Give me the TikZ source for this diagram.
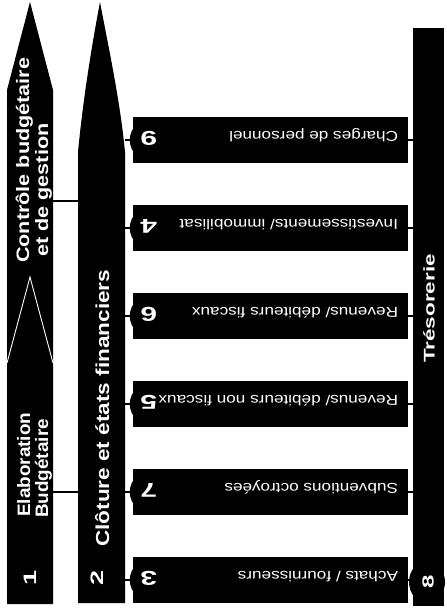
\documentclass[tikz,border=0pt]{standalone}
\usepackage{fontspec}
\setmainfont{Liberation Sans}
\newfontfamily\colfont{Liberation Sans}[FakeStretch=1.2]
\newfontfamily\elfont{Liberation Sans}[FakeStretch=1.05]
\newfontfamily\trfont{Liberation Sans}[FakeStretch=1.45]
\newfontfamily\boxfont{Liberation Sans}[FakeStretch=1.2]
\newfontfamily\numfont{Liberation Sans}[FakeStretch=1.5]
\begin{document}
\begin{tikzpicture}[x=1pt,y=-1pt,
  body/.style={inner sep=0pt, minimum width=#1, anchor=north west},
  box/.style={fill=black, inner sep=0pt, minimum width=275pt, minimum height=46pt},
  conn/.style={line width=2pt, black},
  coltext/.style={white, inner sep=0pt, rotate=90, anchor=base west, font=\colfont\bfseries\fontsize{18}{18}\selectfont},
  eltext/.style={white, inner sep=0pt, rotate=90, anchor=base west, font=\elfont\bfseries\fontsize{18}{18}\selectfont},
  colnum/.style={white, inner sep=0pt, rotate=90, font=\numfont\bfseries\fontsize{18}{18}\selectfont},
  boxnum/.style={white, inner sep=0pt, rotate=180, font=\numfont\bfseries\fontsize{20}{20}\selectfont},
  boxtext/.style={white, inner sep=0pt, rotate=180, anchor=base west, font=\boxfont\fontsize{14.3}{14.3}\selectfont}
]
\useasboundingbox (0,0) rectangle (447,616);
\fill[white] (0,0) rectangle (447,616);

% column 1 : Controle budgetaire / Elaboration budgetaire
\node[body=46pt, minimum height=514pt] (c1) at (7,90) {};
\fill (7,90) -- (30,2) -- (53,90) -- (53,604) -- (7,604) -- cycle;
\draw[white, line width=0.9pt] (7,363) -- (30,277) -- (53,363);

% column 2 : Cloture
\node[body=47pt, minimum height=451pt] (c2) at (78,152) {};
\fill (78,152) .. controls (83,100) and (91,50) .. (100,2)
      .. controls (109,50) and (120,100) .. (125,152) -- (125,603) -- (78,603) -- cycle;

% column 8 : Tresorerie
\node[body=31pt, minimum height=578pt] (tr) at (413,28) {};
\fill (413,28) rectangle (444,606);
\fill (427,582) ellipse (18pt and 21pt);

% texts of the columns
\node[coltext] (t1a) at (29,263) {Contrôle budgétaire};
\node[coltext] (t1b) at (48,257) {et de gestion};
\node[eltext] (t1c) at (30,517) {Elaboration};
\node[eltext] (t1d) at (48,518) {Budgétaire};
\node[colnum] (n1) at (30,578) {1};
\node[coltext, font=\colfont\bfseries\fontsize{18.8}{18.8}\selectfont] (t2) at (109,547) {Clôture et états financiers};
\node[colnum] (n2) at (97,578) {2};
\node[coltext, font=\trfont\bfseries\fontsize{15.5}{15.5}\selectfont] (t8) at (434.5,363) {Trésorerie};
\node[colnum, font=\numfont\bfseries\fontsize{16}{16}\selectfont] (n8) at (428,582) {8};

% boxes
\foreach \n/\y/\t in {9/140/{Charges de personnel},
                      4/228/{Investissements/ immobilisat},
                      6/316/{Revenus/ débiteurs fiscaux},
                      5/404/{Revenus/ débiteurs non fiscaux},
                      7/492/{Subventions octroyées},
                      3/580/{Achats / fournisseurs}}{
  \node[box] (b\n) at (270.5,\y) {};
  \fill ([xshift=18pt]b\n.west) circle (21pt);
  \node[boxnum] (bn\n) at ([xshift=16pt,yshift=2pt]b\n.west) {\n};
  \node[boxtext] (bt\n) at ([xshift=-10pt,yshift=9pt]b\n.east) {\t};
  \draw[conn] (c2.east |- b\n) -- (b\n.west);
  \draw[conn] (b\n.east) -- (tr.west |- b\n);
}

% connectors column 1 -> column 2
\coordinate (k1) at (0,201);
\coordinate (k2) at (0,492);
\draw[conn] (c1.east |- k1) -- (c2.west |- k1);
\draw[conn] (c1.east |- k2) -- (c2.west |- k2);
\end{tikzpicture}
\end{document}
